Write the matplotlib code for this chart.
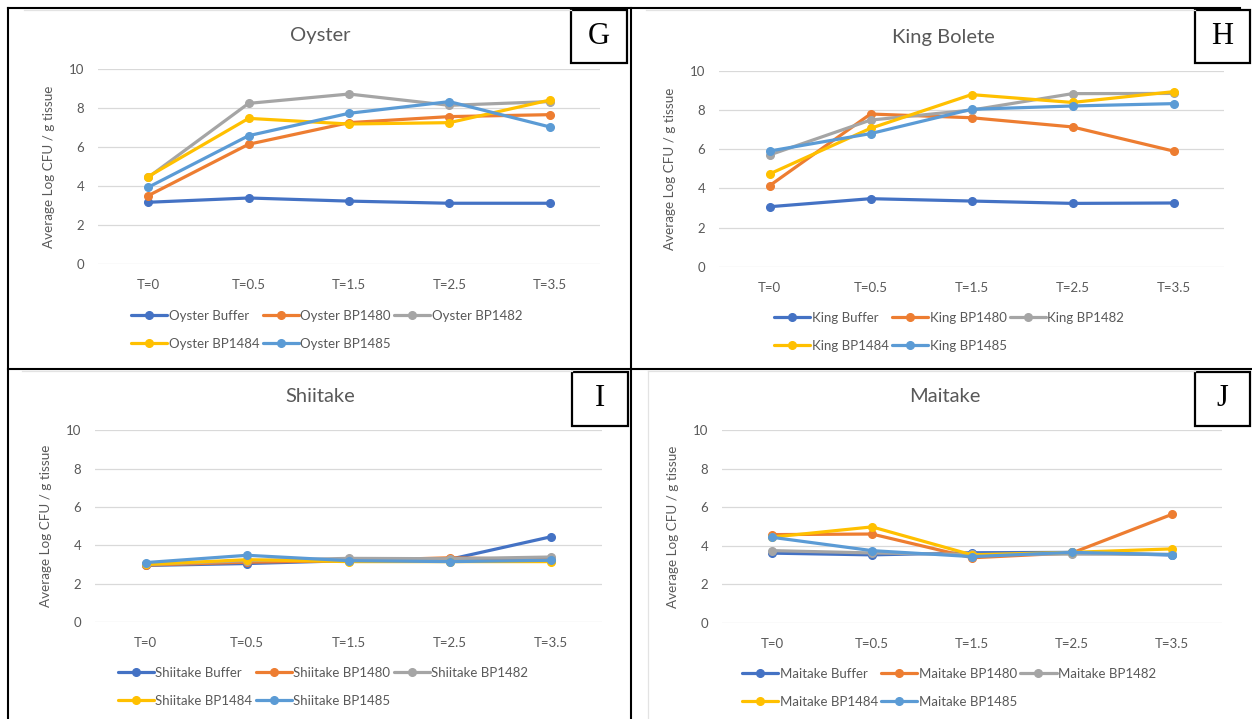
import matplotlib
matplotlib.use("Agg")
import matplotlib.pyplot as plt
from matplotlib.lines import Line2D
from matplotlib.patches import Rectangle

plt.rcParams['font.family'] = ['Lato', 'DejaVu Sans']

W, H = 1252, 719

timepoints = ["T=0", "T=0.5", "T=1.5", "T=2.5", "T=3.5"]
treatments = ["Buffer", "BP1480", "BP1482", "BP1484", "BP1485"]
colors = ["#4472C4", "#ED7D31", "#A5A5A5", "#FFC000", "#5B9BD5"]

oyster_buffer = [3.17, 3.39, 3.23, 3.12, 3.12]
oyster_bp1480 = [3.51, 6.15, 7.26, 7.57, 7.67]
oyster_bp1482 = [4.45, 8.25, 8.73, 8.15, 8.34]
oyster_bp1484 = [4.49, 7.48, 7.19, 7.26, 8.42]
oyster_bp1485 = [3.94, 6.59, 7.74, 8.34, 7.04]

king_buffer = [3.06, 3.47, 3.35, 3.23, 3.25]
king_bp1480 = [4.13, 7.79, 7.60, 7.13, 5.90]
king_bp1482 = [5.70, 7.48, 7.99, 8.83, 8.84]
king_bp1484 = [4.73, 7.06, 8.78, 8.38, 8.93]
king_bp1485 = [5.90, 6.79, 8.03, 8.20, 8.32]

shiitake_buffer = [2.95, 3.05, 3.20, 3.27, 4.45]
shiitake_bp1480 = [2.97, 3.12, 3.20, 3.35, 3.25]
shiitake_bp1482 = [3.00, 3.20, 3.32, 3.30, 3.39]
shiitake_bp1484 = [3.00, 3.25, 3.15, 3.15, 3.15]
shiitake_bp1485 = [3.10, 3.48, 3.20, 3.15, 3.22]

maitake_buffer = [3.62, 3.53, 3.64, 3.66, 3.52]
maitake_bp1480 = [4.58, 4.61, 3.38, 3.63, 5.63]
maitake_bp1482 = [3.75, 3.63, 3.55, 3.57, 3.56]
maitake_bp1484 = [4.45, 4.98, 3.53, 3.66, 3.84]
maitake_bp1485 = [4.44, 3.75, 3.44, 3.66, 3.54]

panels = [
    dict(title="Oyster", prefix="Oyster", letter="G",
         series=[oyster_buffer, oyster_bp1480, oyster_bp1482, oyster_bp1484, oyster_bp1485],
         ax_px=(98, 69.3, 600, 264), title_px=(320, 36), label_x=55,
         leg_px=(131, 316), box_px=(571, 10, 627, 63)),
    dict(title="King Bolete", prefix="King", letter="H",
         series=[king_buffer, king_bp1480, king_bp1482, king_bp1484, king_bp1485],
         ax_px=(719, 70.7, 1224, 266.7), title_px=(943, 37), label_x=676,
         leg_px=(774, 318), box_px=(1195, 10, 1250, 63)),
    dict(title="Shiitake", prefix="Shiitake", letter="I",
         series=[shiitake_buffer, shiitake_bp1480, shiitake_bp1482, shiitake_bp1484, shiitake_bp1485],
         ax_px=(95, 430.3, 602, 622), title_px=(320, 397), label_x=52,
         leg_px=(117.5, 672.7), box_px=(572, 372, 628, 426)),
    dict(title="Maitake", prefix="Maitake", letter="J",
         series=[maitake_buffer, maitake_bp1480, maitake_bp1482, maitake_bp1484, maitake_bp1485],
         ax_px=(722, 430, 1222, 623), title_px=(945, 396), label_x=679,
         leg_px=(742, 674), box_px=(1195, 372, 1250, 426)),
]

TXT = "#595959"
GRID = "#D9D9D9"

fig = plt.figure(figsize=(W / 100, H / 100), dpi=100)
fig.patch.set_facecolor("white")


def fx(x):
    return x / W


def fy(y):
    return 1 - y / H


for p in panels:
    x0, y0, x1, y1 = p["ax_px"]
    ax = fig.add_axes([fx(x0), fy(y1), (x1 - x0) / W, (y1 - y0) / H])
    xs = list(range(len(timepoints)))
    handles = []
    for name, vals, c in zip(treatments, p["series"], colors):
        h, = ax.plot(xs, vals, color=c, lw=2.3, marker="o", ms=5.5,
                     label=f"{p['prefix']} {name}", solid_capstyle="round", zorder=3)
        handles.append(h)
    ax.set_xlim(-0.5, len(timepoints) - 0.5)
    ax.set_ylim(0, 10)
    ax.set_yticks([0, 2, 4, 6, 8, 10])
    ax.set_xticks(xs)
    ax.set_xticklabels(timepoints)
    ax.grid(axis="y", color=GRID, lw=0.9, zorder=0)
    ax.set_axisbelow(True)
    for s in ax.spines.values():
        s.set_visible(False)
    ax.tick_params(axis="both", length=0, colors=TXT, labelsize=9.5)
    ax.tick_params(axis="y", pad=10)
    ax.tick_params(axis="x", pad=11)
    ax.set_ylabel("Average Log CFU / g tissue", color=TXT, fontsize=9.7)
    ax.yaxis.set_label_coords((p["label_x"] - x0) / (x1 - x0), 0.5)
    fig.text(fx(p["title_px"][0]), fy(p["title_px"][1]), p["title"], color=TXT,
             fontsize=14.5, ha="center", va="center")
    order = [0, 3, 1, 4, 2]
    lx, ly = p["leg_px"]
    fig.legend([handles[i] for i in order], [handles[i].get_label() for i in order],
               loc="upper left", bbox_to_anchor=(fx(lx), fy(ly - 6)),
               bbox_transform=fig.transFigure, ncol=3, frameon=False,
               borderpad=0, borderaxespad=0, handlelength=2.75, handletextpad=0.1,
               columnspacing=0.25, labelspacing=1.2, fontsize=9.5,
               labelcolor=TXT, numpoints=1)
    bx0, by0, bx1, by1 = p["box_px"]
    fig.add_artist(Rectangle((fx(bx0), fy(by1)), (bx1 - bx0) / W, (by1 - by0) / H,
                             transform=fig.transFigure, fill=False, ec="black", lw=1.6))
    fig.text(fx((bx0 + bx1) / 2), fy((by0 + by1) / 2), p["letter"], family="Liberation Serif",
             fontsize=22, ha="center", va="center", color="black")

# faint chart-area borders
faint = "#E3E3E3"
for xa, ya, xb, yb in [(24, 9.5, 571, 9.5), (646, 9.5, 1195, 9.5),
                       (22, 370.5, 572, 370.5), (648, 370.5, 1195, 370.5),
                       (648, 370.5, 648, 719)]:
    fig.add_artist(Line2D([fx(xa), fx(xb)], [fy(ya), fy(yb)], transform=fig.transFigure,
                          color=faint, lw=0.9))

# black frame lines
for xa, ya, xb, yb in [(7.5, 7.5, 1240, 7.5), (7.5, 368.5, 1252, 368.5),
                       (7.5, 7.5, 7.5, 719), (631, 7.5, 631, 719)]:
    fig.add_artist(Line2D([fx(xa), fx(xb)], [fy(ya), fy(yb)], transform=fig.transFigure,
                          color="black", lw=1.5))

fig.savefig("out.png", dpi=100, facecolor="white")
